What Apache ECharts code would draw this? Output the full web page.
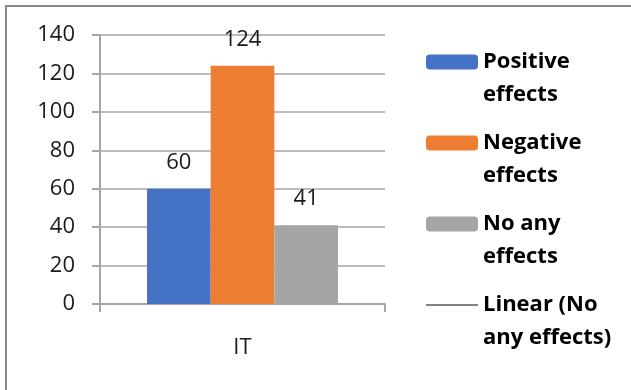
<!DOCTYPE html>
<html>
<head>
<meta charset="utf-8">
<script src="https://cdn.jsdelivr.net/npm/echarts@6/dist/echarts.min.js"></script>
<style>
html,body{margin:0;padding:0;background:#fff;}
#c{width:631px;height:390px;}
</style>
</head>
<body>
<div id="c"></div>
<script>
const categories = ['IT'];
const positiveEffects = [60];
const negativeEffects = [124];
const noAnyEffects = [41];
const seriesNames = ['Positive effects', 'Negative effects', 'No any effects', 'Linear (No any effects)'];
const legendLabels = {
  'Positive effects': ' \nPositive\neffects',
  'Negative effects': ' \nNegative\neffects',
  'No any effects': ' \nNo any\neffects',
  'Linear (No any effects)': ' \nLinear (No\nany effects)'
};

const FONT = '"Open Sans", "Noto Sans", sans-serif';
const chart = echarts.init(document.getElementById('c'), null, {renderer: 'canvas'});
const barLabel = {show: true, position: 'top', distance: 15, fontSize: 22, fontFamily: FONT, color: '#1a1a1a'};

chart.setOption({
  animation: false,
  backgroundColor: '#ffffff',
  grid: {left: 100, right: 246, top: 35, bottom: 86, containLabel: false},
  graphic: [{
    type: 'rect',
    shape: {x: 6, y: 6, width: 700, height: 500},
    style: {fill: 'none', stroke: '#898989', lineWidth: 2},
    silent: true
  }],
  legend: {
    orient: 'vertical',
    left: 426,
    top: 12.5,
    padding: 0,
    itemGap: -18,
    itemWidth: 52,
    itemHeight: 15,
    data: [
      seriesNames[0], seriesNames[1], seriesNames[2],
      {name: seriesNames[3], icon: 'path://M0,0L0.001,0M0,6.8H52V8.3H0ZM0,15L0.001,15', itemStyle: {borderWidth: 0}}
    ],
    formatter: n => legendLabels[n],
    textStyle: {fontSize: 22, fontWeight: 'bold', fontFamily: FONT, color: '#000', lineHeight: 33}
  },
  xAxis: {
    type: 'category',
    data: categories,
    axisLine: {show: true, lineStyle: {color: '#A6A6A6', width: 2}},
    axisTick: {show: true, length: 8, lineStyle: {color: '#A6A6A6', width: 2}},
    axisLabel: {margin: 33, fontSize: 22, fontFamily: FONT, color: '#1a1a1a'}
  },
  yAxis: {
    type: 'value',
    min: 0, max: 140, interval: 20,
    axisLine: {show: true, lineStyle: {color: '#A6A6A6', width: 2}},
    axisTick: {show: true, length: 8, lineStyle: {color: '#A6A6A6', width: 2}},
    splitLine: {show: true, lineStyle: {color: '#A6A6A6', width: 1.5}},
    axisLabel: {margin: 25, fontSize: 22, fontFamily: FONT, color: '#1a1a1a'}
  },
  series: [
    {name: seriesNames[0], type: 'bar', data: positiveEffects, barGap: '0%', barCategoryGap: '33%', itemStyle: {color: '#4472C4'}, label: barLabel},
    {name: seriesNames[1], type: 'bar', data: negativeEffects, itemStyle: {color: '#ED7D31'}, label: barLabel},
    {name: seriesNames[2], type: 'bar', data: noAnyEffects, itemStyle: {color: '#A5A5A5'}, label: barLabel},
    {name: seriesNames[3], type: 'line', data: noAnyEffects, symbol: 'none', showSymbol: false, lineStyle: {color: '#595959', width: 1.5}, itemStyle: {color: '#595959'}, label: {show: false}}
  ]
});
</script>
</body>
</html>
